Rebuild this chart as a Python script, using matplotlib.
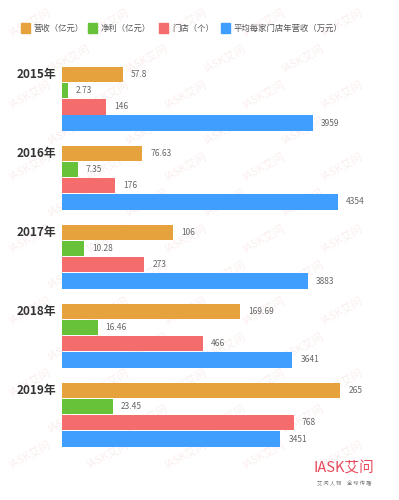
import matplotlib.pyplot as plt
from matplotlib.patches import Rectangle

plt.rcParams['font.family'] = ['Noto Sans CJK SC', 'DejaVu Sans']

# 数据
years = ['2015年', '2016年', '2017年', '2018年', '2019年']
revenue = [57.8, 76.63, 106, 169.69, 265]          # 营收（亿元）
profit = [2.73, 7.35, 10.28, 16.46, 23.45]          # 净利（亿元）
stores = [146, 176, 273, 466, 768]                  # 门店（个）
avg_rev = [3959, 4354, 3883, 3641, 3451]            # 平均每家门店年营收（万元）
labels = ['营收（亿元）', '净利（亿元）', '门店（个）', '平均每家门店年营收（万元）']

series = [revenue, profit, stores, avg_rev]
colors = ['#E6A23C', '#67C23A', '#F56C6C', '#409EFF']
# each series has its own length scale in the original graphic (px per unit)
scales = [1.05, 2.17, 0.302, 0.0633]

fig = plt.figure(figsize=(3.99, 5), dpi=100)
ax = fig.add_axes([0, 0, 1, 1])
ax.set_xlim(0, 399)
ax.set_ylim(500, 0)
ax.axis('off')

# faint watermark, kept inside the picture
for r in range(14):
    for c in range(6):
        x = 30 + c * 78 + (r % 2) * 39
        y = 22 + r * 36
        if x > 372 or y > 480:
            continue
        ax.text(x, y, 'IASK艾问', fontsize=8, color='#fbeeee', rotation=28,
                ha='center', va='center', zorder=0)

x0 = 62
bar_h = 15.4
step = 16.2
for i, yr in enumerate(years):
    top = 66.7 + 79 * i
    ax.text(17, top + 7.7, yr, fontsize=8.5, fontweight='bold', color='#333333',
            ha='left', va='center')
    for j, vals in enumerate(series):
        yc = top + 7.7 + step * j
        w = vals[i] * scales[j]
        ax.barh(yc, w, left=x0, height=bar_h, color=colors[j], zorder=2)
        ax.text(x0 + w + 8, yc, f'{vals[i]:g}', fontsize=6, color='#666666',
                ha='left', va='center', zorder=3)

# legend
leg_x = [21, 87.5, 159, 221]
for lx, lab, col in zip(leg_x, labels, colors):
    ax.add_patch(Rectangle((lx, 23.3), 9.3, 9.3, color=col, zorder=3))
    ax.text(lx + 13, 28, lab, fontsize=6, color='#555555', ha='left', va='center', zorder=3)

# logo
ax.text(344, 469, 'IASK艾问', fontsize=10.5, color='#E8485A', ha='center', va='center', zorder=3)
ax.text(344, 483, '艾 问 人 物     全 球 传 播', fontsize=3.8, color='#777777',
        ha='center', va='center', zorder=3)

fig.savefig('out.png', dpi=100)
